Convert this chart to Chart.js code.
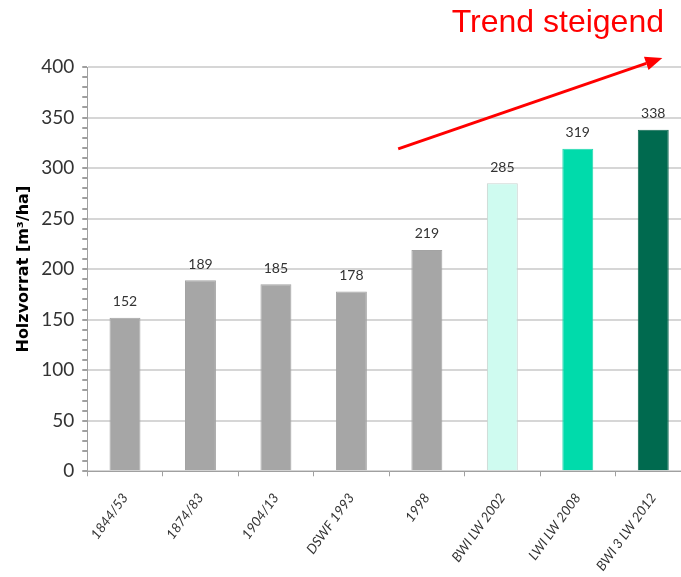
<!DOCTYPE html>
<html lang="de">
<head>
<meta charset="UTF-8" />
<title>Holzvorrat</title>
<script src="https://cdn.jsdelivr.net/npm/chart.js"></script>
<style>
    html, body { margin: 0; padding: 0; overflow: hidden; background: #fff; }
    #wrap { width: 691px; height: 588px; }
</style>
</head>
<body>
<div id="wrap"><canvas id="holzChart"></canvas></div>
<script>
    // Inventuren und Holzvorrat in m³/ha
    const inventories = ['1844/53', '1874/83', '1904/13', 'DSWF 1993', '1998', 'BWI LW 2002', 'LWI LW 2008', 'BWI 3 LW 2012'];
    const stock = [152, 189, 185, 178, 219, 285, 319, 338];
    const barColors = ['#a6a6a6', '#a6a6a6', '#a6a6a6', '#a6a6a6', '#a6a6a6', '#cffbf0', '#00dbab', '#006a4f'];
    const barBorders = ['#a3a3a3', '#a3a3a3', '#a3a3a3', '#a3a3a3', '#a3a3a3', '#c9d3d0', '#1fd8ae', '#0f6a52'];
    const yMax = 400;
    const yStep = 10;
    const yLabelStep = 50;

    // Trendpfeil in Datenkoordinaten (Kategorie-Index, m³/ha)
    const trendFrom = { x: 3.62, y: 319 };
    const trendTo = { x: 7.12, y: 409 };
    const trendText = 'Trend steigend';

    const sans = "Lato, 'Open Sans', sans-serif";

    const valueLabels = {
        id: 'valueLabels',
        afterDatasetsDraw(chart) {
            const ctx = chart.ctx;
            const meta = chart.getDatasetMeta(0);
            ctx.save();
            ctx.font = '14px ' + sans;
            ctx.fillStyle = '#333';
            ctx.textAlign = 'center';
            ctx.textBaseline = 'bottom';
            meta.data.forEach((bar, i) => {
                ctx.fillText(String(stock[i]), bar.x, bar.y - 9);
            });
            ctx.restore();
        }
    };

    const trendArrow = {
        id: 'trendArrow',
        afterDraw(chart) {
            const ctx = chart.ctx;
            const xs = chart.scales.x, ys = chart.scales.y;
            const x1 = xs.getPixelForValue(trendFrom.x), y1 = ys.getPixelForValue(trendFrom.y);
            const x2 = xs.getPixelForValue(trendTo.x), y2 = ys.getPixelForValue(trendTo.y);
            const ang = Math.atan2(y2 - y1, x2 - x1);
            const headLen = 17, headW = 7;
            ctx.save();
            ctx.strokeStyle = '#ff0000';
            ctx.fillStyle = '#ff0000';
            ctx.lineWidth = 3;
            ctx.beginPath();
            ctx.moveTo(x1, y1);
            ctx.lineTo(x2 - headLen * Math.cos(ang), y2 - headLen * Math.sin(ang));
            ctx.stroke();
            ctx.beginPath();
            ctx.moveTo(x2, y2);
            ctx.lineTo(x2 - headLen * Math.cos(ang) + headW * Math.sin(ang), y2 - headLen * Math.sin(ang) - headW * Math.cos(ang));
            ctx.lineTo(x2 - headLen * Math.cos(ang) - headW * Math.sin(ang), y2 - headLen * Math.sin(ang) + headW * Math.cos(ang));
            ctx.closePath();
            ctx.fill();

            ctx.font = "32px 'Liberation Sans', Arial, sans-serif";
            ctx.textAlign = 'right';
            ctx.textBaseline = 'alphabetic';
            ctx.fillText(trendText, 664, 32);
            ctx.restore();
        }
    };

    new Chart(document.getElementById('holzChart'), {
        type: 'bar',
        data: {
            labels: inventories,
            datasets: [{
                data: stock,
                backgroundColor: barColors,
                borderColor: barBorders,
                borderWidth: 1,
                barPercentage: 0.41,
                categoryPercentage: 1
            }]
        },
        options: {
            responsive: true,
            maintainAspectRatio: false,
            animation: false,
            layout: { padding: { top: 67, left: 14, right: 0, bottom: 0 } },
            plugins: {
                legend: { display: false },
                tooltip: { enabled: false }
            },
            scales: {
                x: {
                    border: { display: true, color: '#a0a0a0', width: 1 },
                    grid: { drawOnChartArea: false, drawTicks: true, tickLength: 5, tickColor: '#a0a0a0' },
                    ticks: {
                        minRotation: 54,
                        maxRotation: 54,
                        autoSkip: false,
                        padding: 14,
                        color: '#333',
                        font: { family: sans, size: 13.5, style: 'italic' }
                    }
                },
                y: {
                    min: 0,
                    max: yMax,
                    border: { display: true, color: '#a0a0a0', width: 1 },
                    grid: {
                        color: c => c.tick.value % yLabelStep === 0 ? '#d6d6d6' : 'rgba(0,0,0,0)',
                        lineWidth: 2,
                        tickColor: '#a0a0a0',
                        tickLength: 5
                    },
                    ticks: {
                        stepSize: yStep,
                        autoSkip: false,
                        padding: 8,
                        color: '#333',
                        font: { family: sans, size: 19 },
                        callback: v => v % yLabelStep === 0 ? v : ''
                    },
                    title: {
                        display: true,
                        text: 'Holzvorrat [m³/ha]',
                        color: '#000',
                        padding: { top: 0, bottom: 0 },
                        font: { family: "'DejaVu Sans', sans-serif", size: 16, weight: 'bold' }
                    }
                }
            }
        },
        plugins: [valueLabels, trendArrow]
    });
</script>
</body>
</html>
